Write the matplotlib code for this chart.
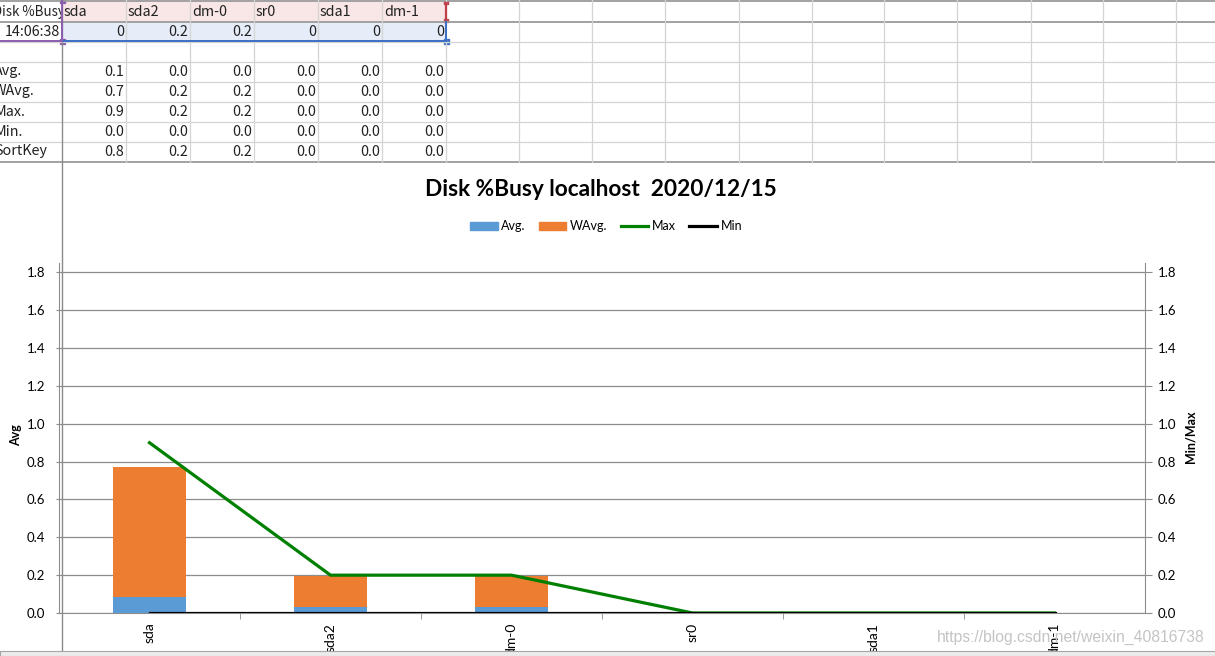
import numpy as np
import matplotlib
matplotlib.use("Agg")
import matplotlib.pyplot as plt
from matplotlib.patches import Rectangle, Patch
from matplotlib.lines import Line2D
from matplotlib.transforms import Bbox, TransformedBbox

# 数据
disks = ["sda", "sda2", "dm-0", "sr0", "sda1", "dm-1"]
sample_time = "14:06:38"
sample_busy = [0, 0.2, 0.2, 0, 0, 0]
avg = [0.085, 0.03, 0.03, 0.0, 0.0, 0.0]
wavg = [0.685, 0.165, 0.165, 0.0, 0.0, 0.0]
busy_max = [0.9, 0.2, 0.2, 0.0, 0.0, 0.0]
busy_min = [0.0, 0.0, 0.0, 0.0, 0.0, 0.0]
row_labels = ["Avg.", "WAvg.", "Max.", "Min.", "SortKey"]

W, H = 1215, 656
fig = plt.figure(figsize=(W / 100, H / 100), dpi=100)
fig.patch.set_facecolor("white")

# ---- 表格部分 (像素坐标) ----
bg = fig.add_axes([0, 0, 1, 1])
bg.set_xlim(0, W)
bg.set_ylim(H, 0)
bg.axis("off")

col_x = [62, 126, 190, 254, 318, 382, 446, 519, 592, 665, 739, 812, 884, 957, 1031, 1103, 1176]
row_y = [1, 21.5, 41.5, 61.5, 81.5, 101.5, 121.5, 141.5, 162]

bg.add_patch(Rectangle((62, 1), 384, 20.5, color="#f9e6e6", lw=0))
bg.add_patch(Rectangle((62, 21.5), 384, 20, color="#e6edf8", lw=0))

for y in row_y[2:-1]:
    bg.plot([0, W], [y, y], color="#d4d4d4", lw=0.9)
for y in [row_y[0], row_y[1], row_y[-1]]:
    bg.plot([0, W], [y, y], color="#9a9a9a", lw=1.3)
for x in col_x[1:]:
    bg.plot([x, x], [0, 162], color="#d4d4d4", lw=0.9)
bg.plot([62, 62], [0, H], color="#8a8a8a", lw=1.0)

# 选区边框
bg.plot([446, 446], [3, 20], color="#c0404a", lw=1.6)
bg.add_patch(Rectangle((444, 1), 4, 3, color="#c0404a"))
bg.add_patch(Rectangle((444, 18.5), 4, 3, color="#c0404a"))
bg.plot([62, 446], [41, 41], color="#3a6fc4", lw=1.4)
bg.plot([446, 446], [22, 41], color="#3a6fc4", lw=1.4)
bg.add_patch(Rectangle((443.5, 38.5), 5, 5, color="#3a6fc4"))
bg.plot([0, 62], [41, 41], color="#8a5cb0", lw=1.4)
bg.plot([62, 62], [0, 41], color="#8a5cb0", lw=1.4)
bg.add_patch(Rectangle((60, 39), 4.5, 4.5, color="#8a5cb0"))
bg.add_patch(Rectangle((60, 0), 4.5, 3, color="#8a5cb0"))

cell_font = dict(fontsize=10.3, family=["Noto Sans CJK SC", "DejaVu Sans"], color="#222222", va="center")
# A1 的文字在单元格边界处被截断
a1_font = dict(cell_font, fontsize=9.6)
t = bg.text(-7, 12, "Disk %Busy", ha="left", **a1_font)
t.set_clip_on(True)
t.set_clip_box(TransformedBbox(Bbox([[0, 0], [60.5, 21]]), bg.transData))
for i, d in enumerate(disks):
    bg.text(col_x[i] + 2, 12, d, ha="left", **cell_font)
bg.text(60, 32, sample_time, ha="right", **cell_font)
for i, v in enumerate(sample_busy):
    bg.text(col_x[i + 1] - 2, 32, f"{v:g}", ha="right", **cell_font)

sort_key = [a + b for a, b in zip(avg, wavg)]
table_rows = [avg, wavg, busy_max, busy_min, sort_key]
for r, (lab, vals) in enumerate(zip(row_labels, table_rows)):
    yc = 71.5 + 20 * r
    bg.text(-6, yc, lab, ha="left", **cell_font)
    for i, v in enumerate(vals):
        bg.text(col_x[i + 1] - 2, yc, f"{v:.1f}", ha="right", **cell_font)

# ---- 图表部分 ----
plt.rcParams["font.family"] = ["Lato", "DejaVu Sans"]
x = np.arange(len(disks))
ymax = 1.85

ax = fig.add_axes([59 / W, (H - 613) / H, 1086 / W, 350 / H])
ax.patch.set_alpha(0)
ax.bar(x, avg, 0.40, color="#5b9bd5", zorder=3)
ax.bar(x, wavg, 0.40, bottom=avg, color="#ed7d31", zorder=3)
ax.set_xlim(-0.5, len(disks) - 0.5)
ax.set_ylim(0, ymax)
ax.set_yticks(np.arange(0, 1.81, 0.2))
ax.yaxis.set_major_formatter(matplotlib.ticker.FormatStrFormatter("%.1f"))
ax.yaxis.grid(True, color="#8c8c8c", lw=0.9, zorder=0)
ax.set_xticks(x, disks, rotation=90)
ax.set_xticks(np.arange(0.5, len(disks) - 0.5), minor=True)
ax.tick_params(axis="x", which="major", length=0, pad=7, labelsize=10)
ax.tick_params(axis="x", which="minor", length=4, color="#8c8c8c")
ax.tick_params(axis="y", length=2.5, color="#8c8c8c", pad=7.5, labelsize=9.5)
for s in ["top", "right"]:
    ax.spines[s].set_visible(False)
ax.spines["left"].set_color("#8c8c8c")
ax.spines["bottom"].set_color("#8c8c8c")

ax2 = ax.twinx()
ax2.plot(x, busy_max, color="#008000", lw=2.3, zorder=4)
ax2.plot(x, busy_min, color="black", lw=2.3, zorder=4)
ax2.set_ylim(0, ymax)
ax2.set_yticks(np.arange(0, 1.81, 0.2))
ax2.yaxis.set_major_formatter(matplotlib.ticker.FormatStrFormatter("%.1f"))
ax2.tick_params(axis="y", length=5, color="#8c8c8c", pad=4, labelsize=9.5)
for s in ["top", "left", "bottom"]:
    ax2.spines[s].set_visible(False)
ax2.spines["right"].set_color("#8c8c8c")

fig.text(601 / W, 1 - 189 / H, "Disk %Busy localhost  2020/12/15",
         ha="center", va="center", fontsize=16.3, fontweight="bold")
fig.text(16 / W, 1 - 435 / H, "Avg", rotation=90, ha="center", va="center",
         fontsize=9, fontweight="bold")
fig.text(1190 / W, 1 - 437 / H, "Min/Max", rotation=90, ha="center", va="center",
         fontsize=9, fontweight="bold")

handles = [Patch(color="#5b9bd5"), Patch(color="#ed7d31"),
           Line2D([], [], color="#008000", lw=2.3), Line2D([], [], color="black", lw=2.3)]
fig.legend(handles, ["Avg.", "WAvg.", "Max", "Min"], ncol=4, loc="center",
           bbox_to_anchor=(606 / W, 1 - 226 / H), frameon=False, fontsize=9,
           handlelength=2.2, handleheight=0.6, handletextpad=0.3, columnspacing=1.05)

# 底部工作表标签栏 + 水印
fig.add_artist(Rectangle((0, 0), 1, 5 / H, transform=fig.transFigure,
                         facecolor="#ececec", edgecolor="#a6a6a6", lw=0.8, zorder=10))
fig.text(1205 / W, 1 - 637 / H, "https://blog.csdn.net/weixin_40816738", ha="right",
         va="center", fontsize=11.3, color="#c4c4c4", family="Liberation Sans", zorder=11)

fig.savefig("out.png", dpi=100)
